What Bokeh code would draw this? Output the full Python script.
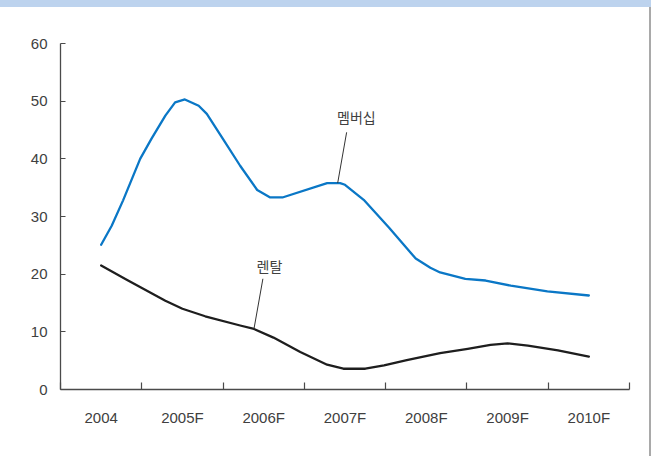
from bokeh.plotting import figure
from bokeh.models import FixedTicker, Range1d, Div, ColumnDataSource
from bokeh.layouts import column, row
from bokeh.embed import file_html
from bokeh.resources import INLINE
from bokeh.core.properties import value

# Periods on the category axis
periods = ["2004", "2005F", "2006F", "2007F", "2008F", "2009F", "2010F"]
first_year = 2004

# Membership series (fractional year, value)
member_t = [2004.00, 2004.13, 2004.27, 2004.48, 2004.62, 2004.79, 2004.91, 2005.03,
            2005.20, 2005.30, 2005.51, 2005.71, 2005.92, 2006.08, 2006.23, 2006.78,
            2006.94, 2007.00, 2007.23, 2007.54, 2007.87, 2008.05, 2008.17, 2008.48,
            2008.73, 2009.04, 2009.49, 2010.00]
member_v = [25.1, 28.4, 32.8, 40.0, 43.5, 47.5, 49.8, 50.3,
            49.2, 47.8, 43.2, 38.8, 34.6, 33.3, 33.3, 35.8,
            35.8, 35.5, 32.9, 28.1, 22.7, 21.1, 20.3, 19.2,
            18.9, 18.0, 17.0, 16.3]

# Rental series (fractional year, value)
rental_t = [2004.00, 2004.32, 2004.79, 2005.00, 2005.28, 2005.71, 2005.88, 2006.12,
            2006.45, 2006.78, 2006.98, 2007.25, 2007.48, 2007.76, 2008.17, 2008.51,
            2008.79, 2009.00, 2009.25, 2009.62, 2010.00]
rental_v = [21.5, 19.0, 15.4, 14.0, 12.7, 11.1, 10.5, 9.0,
            6.5, 4.3, 3.6, 3.6, 4.2, 5.1, 6.3, 7.05,
            7.75, 8.0, 7.6, 6.8, 5.7]

# Series callouts: label text, label point, leader start, leader end
callout_text = ["멤버십", "렌탈"]
callout_t = [2007.14, 2006.07]
callout_v = [47.2, 21.5]
leader_t0 = [2007.02, 2005.99]
leader_v0 = [44.6, 19.2]
leader_t1 = [2006.91, 2005.88]
leader_v1 = [35.8, 10.5]

y_ticks = [0, 10, 20, 30, 40, 50, 60]


def pos(t):
    # category i is centred at i + 0.5
    return [x - first_year + 0.5 for x in t]


text_color = "#404040"
axis_color = "#4a4a4a"

p = figure(width=649, height=449, output_backend="svg", toolbar_location=None,
           x_range=Range1d(0, len(periods)), y_range=Range1d(0, 60),
           min_border_left=60, min_border_right=20, min_border_top=36,
           min_border_bottom=67)
p.outline_line_color = None
p.xgrid.visible = False
p.ygrid.visible = False
p.background_fill_color = "white"
p.border_fill_color = "white"

p.line(pos(member_t), member_v, line_color="#0a77c6", line_width=2.3,
       line_join="round", line_cap="round")
p.line(pos(rental_t), rental_v, line_color="#1e1e1e", line_width=2.3,
       line_join="round", line_cap="round")

p.segment(x0=pos(leader_t0), y0=leader_v0, x1=pos(leader_t1), y1=leader_v1,
          line_color="#333333", line_width=1)
src = ColumnDataSource(dict(x=pos(callout_t), y=callout_v, text=callout_text))
p.text(x="x", y="y", text="text", source=src, text_align="center",
       text_baseline="middle", text_font=value("Noto Sans CJK KR"),
       text_font_size="14px", text_color=text_color)

# x axis: tick marks at category boundaries, labels at centres
xax = p.xaxis[0]
centres = [i + 0.5 for i in range(len(periods))]
xax.ticker = FixedTicker(ticks=centres, minor_ticks=list(range(len(periods) + 1)))
xax.major_label_overrides = {c: lab for c, lab in zip(centres, periods)}
xax.major_tick_line_color = None
xax.major_tick_in = 0
xax.major_tick_out = 0
xax.minor_tick_in = 7
xax.minor_tick_out = 0
xax.minor_tick_line_color = axis_color
xax.major_label_standoff = 19

yax = p.yaxis[0]
yax.ticker = FixedTicker(ticks=y_ticks)
yax.minor_tick_line_color = None
yax.major_tick_in = 5
yax.major_tick_out = 0
yax.major_label_standoff = 13

for ax in (xax, yax):
    ax.axis_line_color = axis_color
    ax.axis_line_width = 1.3
    ax.major_tick_line_color = axis_color if ax is yax else None
    ax.major_tick_line_width = 1.2
    ax.minor_tick_line_width = 1.2
    ax.major_label_text_font = "Liberation Sans"
    ax.major_label_text_font_size = "15px"
    ax.major_label_text_color = text_color

band = Div(width=651, height=7, margin=(0, 0, 0, 0),
           styles={"background-color": "#bdd3ee"})
edge = Div(width=2, height=449, margin=(0, 0, 0, 0),
           styles={"background-color": "#a9a9a9"})
layout = column(band, row(p, edge, spacing=0), spacing=0)

open("out.html", "w").write(file_html(layout, INLINE))
